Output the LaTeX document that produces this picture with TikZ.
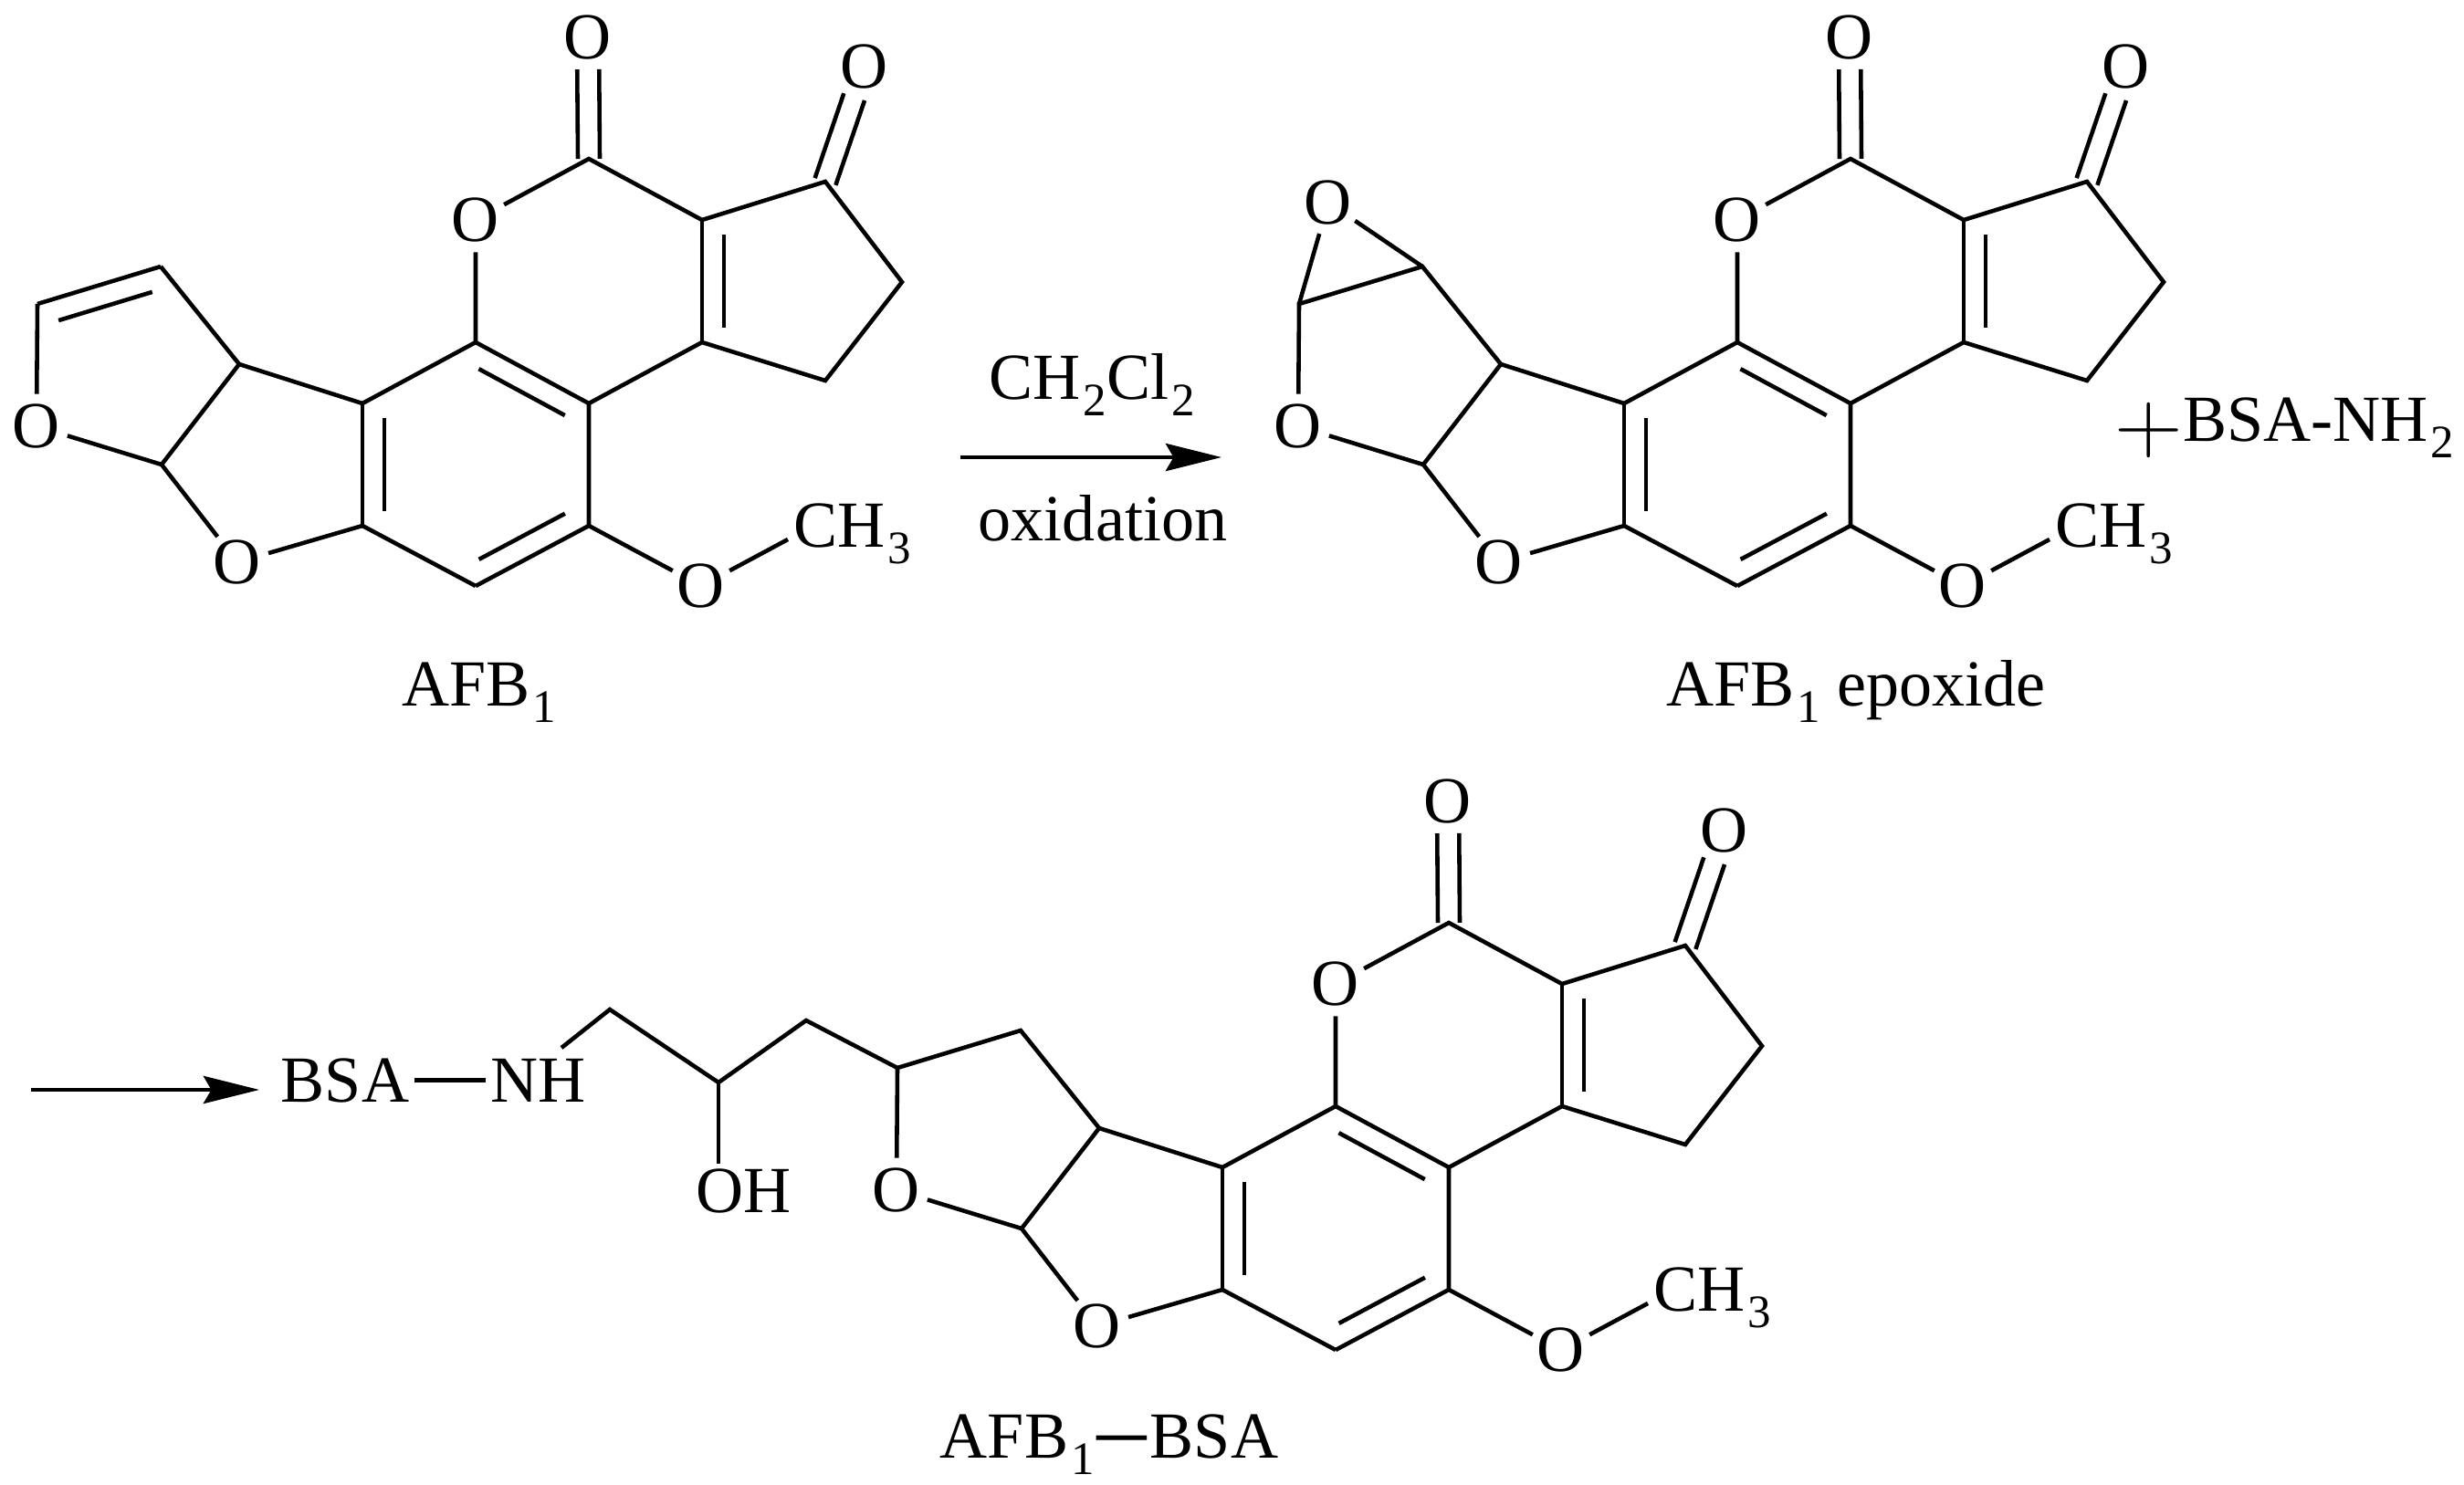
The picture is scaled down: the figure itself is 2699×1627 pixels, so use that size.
\documentclass[tikz,border=0pt]{standalone}
\usepackage{fontspec}
\setmainfont{Liberation Serif}
\usetikzlibrary{arrows.meta,calc}

\newcommand{\lowidx}[1]{\hspace{0.03cm}\raisebox{-0.18cm}{\fontsize{14.5}{16}\selectfont #1}}

% plain bond plus a shorter inner line on the left of the way from #1 to #2
\newcommand{\dblbond}[2]{
\draw[bond] (#1)--(#2);
\draw[bond] ($(#1)!0.12!(#2)!0.24cm!90:(#2)$)--($(#1)!0.88!(#2)!0.24cm!-90:(#1)$);
}
% C=O, #1 the carbon and #2 the oxygen
\newcommand{\oxobond}[2]{
\foreach \s/\t in {90/-90,-90/90}
  \draw[bond] ($(#1)!0.12cm!\s:(#2)$)--($(#2)!0.35cm!(#1)!0.12cm!\t:(#1)$);
}
% the part that all three molecules share
\newcommand{\afbcore}{
\foreach \n/\x/\y in {c1/645/174,c2/904/199,c3/769/241,c4/769/375,c5/988/309,c6/904/417,
  c7/521/375,c8/645/442,c9/645/576,c10/521/642,c11/397/576,c12/397/442,c13/262/399,c14/177/509,
  c15/41/333,c16/176/292,me/863/591}
  \coordinate (\n) at (\x,\y);
\foreach \n/\x/\y in {o1/644/41,o2/947/73,o3/521/241,o4/260/616,o5/40/467,o6/768/642}
  \node[atom] (\n) at (\x,\y) {O};
\node[label] (ch3) at (869,599) {CH\lowidx{3}};

\draw[bond] (o3)--(c1)--(c3)--(c2)--(c5)--(c6)--(c4)--(c8)--(c9);
\draw[bond] (o3)--(c7)--(c12);
\draw[bond] (c11)--(c10);
\draw[bond] (c12)--(c13)--(c14)--(o4)--(c11);
\draw[bond] (c14)--(o5);
\draw[bond] (c9)--(o6)--(me);
\oxobond{c1}{o1}
\oxobond{c2}{o2}
\dblbond{c3}{c4}
\dblbond{c8}{c7}
\dblbond{c12}{c11}
\dblbond{c10}{c9}
}

\tikzset{
  bond/.style={line width=1.3pt},
  atom/.style={circle,inner sep=0pt,outer sep=0pt,minimum size=0.7cm,font=\fontsize{20.5}{24}\selectfont},
  label/.style={anchor=base west,inner sep=0pt,font=\fontsize{20.5}{24}\selectfont},
  caption/.style={anchor=base,inner sep=0pt,font=\fontsize{20.5}{24}\selectfont},
  group/.style={inner sep=0.055cm,font=\fontsize{20.5}{24}\selectfont},
  reaction/.style={line width=1.4pt,-{Stealth[length=0.61cm,width=0.3cm,inset=0.085cm]}}
}

\begin{document}
\begin{tikzpicture}[x=0.01cm,y=-0.01cm]
\useasboundingbox (0,0) rectangle (2699,1627);

% AFB1
\begin{scope}[name prefix=afb-]
\afbcore
\draw[bond] (o5)--(c15);
\dblbond{c16}{c15}
\draw[bond] (c16)--(c13);
\end{scope}
\node[caption] (afbname) at (525,773) {AFB\lowidx{1}};

% first reaction
\coordinate (arrowa1) at (1052,501);
\coordinate (arrowa2) at (1338,501);
\draw[reaction] (arrowa1)--(arrowa2);
\node[caption] (solvent) at (1196,437) {CH\lowidx{2}Cl\lowidx{2}};
\node[caption] (oxid) at (1208,592) {oxidation};

% epoxide
\begin{scope}[shift={(1382,0)},name prefix=epx-]
\afbcore
\node[atom] (o7) at (73,222) {O};
\draw[bond] (o5)--(c15)--(c16)--(c13);
\draw[bond] (c15)--(o7)--(c16);
\end{scope}
\node[caption] (epxname) at (2033,773) {AFB\lowidx{1} epoxide};
\node[label] (bsanh) at (2316,483) {\raisebox{-0.12cm}{\scalebox{1.42}[1.32]{$+$}}BSA-NH\lowidx{2}};

% second reaction
\coordinate (arrowb1) at (34,1194);
\coordinate (arrowb2) at (284,1194);
\draw[reaction] (arrowb1)--(arrowb2);

% conjugate
\begin{scope}[shift={(942,837)},name prefix=cnj-]
\afbcore
\draw[bond] (o5)--(c15)--(c16)--(c13);
\end{scope}
\coordinate (ch1) at (883,1118);
\coordinate (ch2) at (787,1186);
\coordinate (ch3) at (668,1106);
\coordinate (nhtop) at (615,1148);
\node[group] (bsa) at (378,1183.5) {BSA};
\node[group] (nh) at (590,1183.5) {NH};
\node[group] (oh) at (815,1305) {OH};
\draw[bond] (cnj-c15)--(ch1)--(ch2)--(ch3)--(nhtop);
\draw[bond] (ch2)--(ch2 |- oh.north);
\draw[reaction,-] (bsa)--(nh);
\node[caption] (cnjname) at (1215,1597) {AFB\lowidx{1}\hspace{0.03cm}\raisebox{0.05cm}{\scalebox{0.76}[1]{\textbf{—}}}\hspace{0.03cm}BSA};
\end{tikzpicture}
\end{document}
